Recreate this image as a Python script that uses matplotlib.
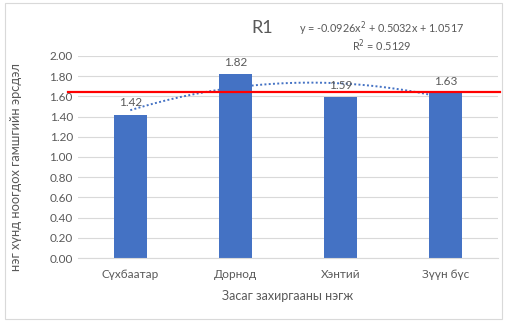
import numpy as np
import matplotlib.pyplot as plt
from matplotlib.patches import Rectangle

# Аймгууд ба нэг хүнд ноогдох эрсдэлийн утга
regions = ['Сүхбаатар', 'Дорнод', 'Хэнтий', 'Зүүн бүс']
risk = [1.42, 1.82, 1.59, 1.63]
threshold = 1.64
y_ticks = [0.0, 0.2, 0.4, 0.6, 0.8, 1.0, 1.2, 1.4, 1.6, 1.8, 2.0]
# 2-р зэргийн трендийн коэффициент (a, b, c) ба R^2
trend_coef = [-0.0926, 0.5032, 1.0517]
trend_r2 = 0.5129

plt.rcParams['font.family'] = ['Lato', 'DejaVu Sans']
gray = '#595959'
blue = '#4472C4'

fig = plt.figure(figsize=(5.05, 3.23), dpi=100)
ax = fig.add_axes([0.154, 0.201, 0.832, 0.626])

x = np.arange(1, len(regions) + 1)
ax.bar(x, risk, width=0.31, color=blue, zorder=2)

# data labels
for xi, v in zip(x, risk):
    ax.text(xi, v + 0.06, f'{v:.2f}', ha='center', va='bottom', fontsize=8.5, color=gray, zorder=4)

# polynomial trend line (order 2)
xs = np.linspace(1, 4, 100)
ax.plot(xs, np.polyval(trend_coef, xs), color=blue, linestyle=(0, (1, 1.2)), linewidth=1.4, zorder=3)

# threshold line, a bit wider than the plot area
ax.plot([0.41, 4.52], [threshold, threshold], color='#FF0000', linewidth=1.6, zorder=5, clip_on=False)

ax.set_xlim(0.5, 4.5)
ax.set_ylim(0, 2.0)
ax.set_yticks(y_ticks)
ax.set_yticklabels([f'{t:.2f}' for t in y_ticks])
ax.set_xticks(x)
ax.set_xticklabels(regions)
ax.tick_params(axis='both', length=0, labelsize=8.5, labelcolor=gray)
ax.tick_params(axis='x', pad=8)
ax.grid(axis='y', color='#D9D9D9', linewidth=0.8, zorder=0)
for side in ['top', 'right', 'left']:
    ax.spines[side].set_visible(False)
ax.spines['bottom'].set_color('#D9D9D9')

ax.set_xlabel('Засаг захиргааны нэгж', fontsize=9, color=gray, labelpad=7)
ax.set_ylabel('нэг хүнд ноогдох гамшгийн эрсдэл', fontsize=9.3, color=gray)
ax.yaxis.set_label_coords(-0.133, 0.45)

a, b, c = trend_coef
fig.text(0.519, 0.913, 'R1', fontsize=13, color=gray, ha='center', va='center')
fig.text(0.756, 0.91, f'y = {a:.4f}x$^2$ + {b:.4f}x + {c:.4f}',
         fontsize=7.8, color=gray, ha='center', va='center')
fig.text(0.756, 0.86, f'R$^2$ = {trend_r2:.4f}', fontsize=7.8, color=gray, ha='center', va='center')

# chart border
fig.patches.append(Rectangle((0.01, 0.012), 0.985, 0.98, transform=fig.transFigure,
                             fill=False, edgecolor='#D9D9D9', linewidth=0.8))

fig.savefig('out.png', dpi=100)
